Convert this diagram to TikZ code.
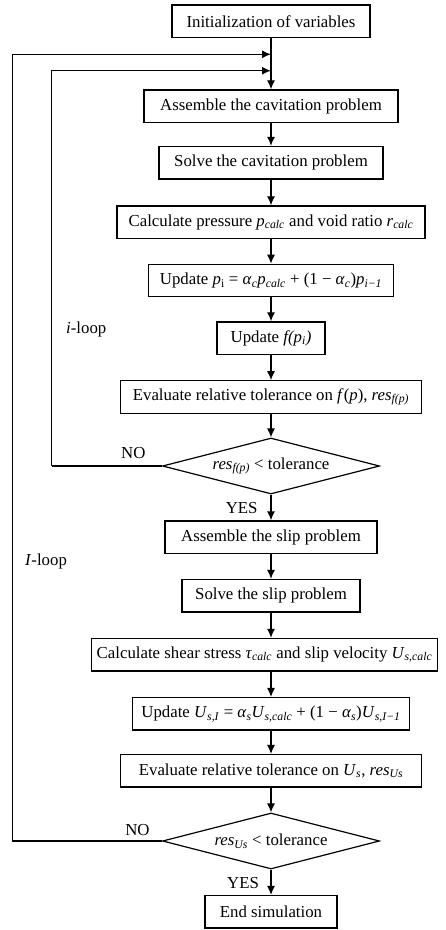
\documentclass[tikz,border=0pt]{standalone}
\usepackage{fontspec}
\setmainfont{Liberation Serif}
\usetikzlibrary{shapes.geometric, arrows.meta}

\newcommand{\subit}[1]{\textsubscript{\textit{#1}}}

\tikzset{
    procbox/.style={draw, rectangle, line width=1.2pt, minimum height=32.5pt, inner sep=1pt},
    decbox/.style={draw, diamond, aspect=3.875, line width=1.2pt, minimum width=217pt, minimum height=56pt, inner sep=0pt},
    flow/.style={-{Latex[length=9pt, width=8pt]}, line width=1.2pt},
    loopline/.style={line width=1.2pt},
}

\begin{document}
\begin{tikzpicture}[x=1pt, y=-1pt, every node/.style={font=\fontsize{16.8}{20}\selectfont}]
% Define center line
\def\cx{271}

\useasboundingbox (0,0) rectangle (446,930);

% Cavitation part
\node[procbox, minimum width=198pt] (init) at (\cx, 21.3) {Initialization of variables};
\node[procbox, minimum width=254pt] (asmCav) at (\cx, 106.2) {Assemble the cavitation problem};
\node[procbox, minimum width=224pt] (solveCav) at (\cx, 162.7) {Solve the cavitation problem};
\node[procbox, minimum width=308pt] (calcP) at (\cx, 222.2)
    {Calculate pressure \textit{p}\subit{calc} and void ratio \textit{r}\subit{calc}};
\node[procbox, minimum width=245pt] (updP) at (\cx, 280.5)
    {Update \textit{p}\textsubscript{i} = \textit{α}\subit{c}\textit{p}\subit{calc} + (1 − \textit{α}\subit{c})\textit{p}\subit{i−1}};
\node[procbox, minimum width=108pt] (updF) at (\cx, 338.2) {Update \textit{f(p}\subit{i}\textit{)}};
\node[procbox, minimum width=301pt] (evalF) at (\cx, 397)
    {Evaluate relative tolerance on \textit{f}(\textit{p}), \textit{res}\subit{f(p)}};
\node[decbox] (decF) at (\cx, 466) {\textit{res}\subit{f(p)} < tolerance};

% Slip part
\node[procbox, minimum width=212pt] (asmSlip) at (\cx, 537.2) {Assemble the slip problem};
\node[procbox, minimum width=178pt] (solveSlip) at (\cx, 595.7) {Solve the slip problem};
\node[procbox, minimum width=346pt] (calcTau) at (264.5, 654.7)
    {Calculate shear stress \textit{τ}\subit{calc} and slip velocity \textit{U}\subit{s,calc}};
\node[procbox, minimum width=277pt] (updU) at (\cx, 713.8)
    {Update \textit{U}\subit{s,I} = \textit{α}\subit{s}\textit{U}\subit{s,calc} + (1 − \textit{α}\subit{s})\textit{U}\subit{s,I−1}};
\node[procbox, minimum width=301pt] (evalU) at (\cx, 770.8)
    {Evaluate relative tolerance on \textit{U}\subit{s}, \textit{res}\subit{Us}};
\node[decbox] (decU) at (\cx, 841) {\textit{res}\subit{Us} < tolerance};
\node[procbox, minimum width=132pt] (endSim) at (\cx, 911.8) {End simulation};

% Junctions and corners of the loops
\coordinate (jOuter) at (\cx, 54.3);
\coordinate (jInner) at (\cx, 70.7);
\coordinate (iCorner) at (51.7, 466);
\coordinate (oCorner) at (12.3, 841);

% Main flow
\draw[flow] (init) -- (asmCav);
\draw[flow] (asmCav) -- (solveCav);
\draw[flow] (solveCav) -- (calcP);
\draw[flow] (calcP) -- (updP);
\draw[flow] (updP) -- (updF);
\draw[flow] (updF) -- (evalF);
\draw[flow] (evalF) -- (decF);
\draw[flow] (decF) -- (asmSlip);
\draw[flow] (asmSlip) -- (solveSlip);
\draw[flow] (solveSlip) -- (solveSlip |- calcTau.north);
\draw[flow] (solveSlip |- calcTau.south) -- (updU);
\draw[flow] (updU) -- (evalU);
\draw[flow] (evalU) -- (decU);
\draw[flow] (decU) -- (endSim);

% Loops
\draw[loopline] (decF.west) -- (iCorner);
\draw[flow] (iCorner) |- (jInner);
\draw[loopline] (decU.west) -- (oCorner);
\draw[flow] (oCorner) |- (jOuter);

% Labels
\node[anchor=west] (iLoop) at (62.7, 329) {\textit{i}-loop};
\node[anchor=west] (ILoop) at (21.7, 561) {\textit{I}-loop};
\node (noF) at (133.3, 453) {NO};
\node (yesF) at (241.7, 508) {YES};
\node (noU) at (137.5, 830) {NO};
\node (yesU) at (243, 883.3) {YES};
\end{tikzpicture}
\end{document}
